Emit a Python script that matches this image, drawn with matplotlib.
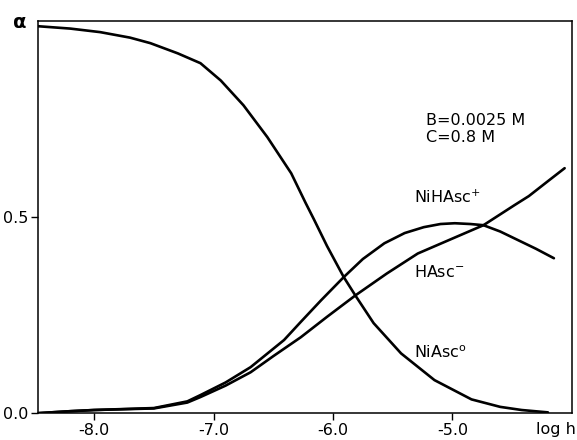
import matplotlib
matplotlib.use('Agg')
import matplotlib.pyplot as plt

plt.rcParams['font.family'] = 'DejaVu Sans'
plt.rcParams['mathtext.default'] = 'regular'

# NiAsc0 species (decreasing curve)
lh_niasc = [-8.47, -8.2, -7.95, -7.7, -7.53, -7.3, -7.11, -6.94, -6.75, -6.55, -6.35,
            -6.23, -6.16, -6.05, -5.91, -5.81, -5.66, -5.43, -5.15, -4.84, -4.6, -4.42, -4.2]
a_niasc = [0.984, 0.978, 0.969, 0.955, 0.941, 0.915, 0.89, 0.846, 0.783, 0.702, 0.61,
           0.535, 0.493, 0.425, 0.346, 0.298, 0.229, 0.152, 0.084, 0.035, 0.016, 0.008, 0.002]

# HAsc- species (curve with a maximum)
lh_hasc = [-8.47, -8.2, -8.0, -7.5, -7.22, -7.11, -6.9, -6.69, -6.41, -6.27, -6.10, -5.91,
           -5.75, -5.57, -5.4, -5.24, -5.1, -4.98, -4.85, -4.74, -4.6, -4.45, -4.3, -4.15]
a_hasc = [0.0, 0.005, 0.008, 0.013, 0.03, 0.046, 0.078, 0.117, 0.186, 0.232, 0.287, 0.346,
          0.392, 0.432, 0.458, 0.473, 0.481, 0.483, 0.481, 0.478, 0.462, 0.44, 0.418, 0.394]

# NiHAsc+ species (rising curve)
lh_nihasc = [-8.47, -8.2, -8.0, -7.5, -7.22, -7.11, -6.9, -6.69, -6.5, -6.27, -6.05, -5.81,
             -5.55, -5.29, -5.0, -4.74, -4.48, -4.36, -4.2, -4.06]
a_nihasc = [0.0, 0.005, 0.008, 0.012, 0.027, 0.041, 0.07, 0.104, 0.145, 0.193, 0.245, 0.30,
            0.355, 0.406, 0.444, 0.478, 0.529, 0.552, 0.59, 0.623]

xticks = [-8.0, -7.0, -6.0, -5.0]
xticklabels = ['-8.0', '-7.0', '-6.0', '-5.0']
yticks = [0.0, 0.5]
yticklabels = ['0.0', '0.5']

fig = plt.figure(figsize=(5.77, 4.40), dpi=100)
ax = fig.add_axes([0.066, 0.061, 0.925, 0.891])

for x, y in [(lh_niasc, a_niasc), (lh_hasc, a_hasc), (lh_nihasc, a_nihasc)]:
    ax.plot(x, y, color='black', lw=1.9, solid_capstyle='round', solid_joinstyle='round')

ax.set_xlim(-8.47, -4.0)
ax.set_ylim(0, 0.997)
ax.set_xticks(xticks)
ax.set_xticklabels(xticklabels)
ax.set_yticks(yticks)
ax.set_yticklabels(yticklabels)
ax.tick_params(direction='out', length=5, width=1.0, labelsize=11.5, pad=2)
for s in ax.spines.values():
    s.set_linewidth(1.1)

# annotations (baseline positions in data units)
ax.text(-5.22, 0.732, 'B=0.0025 M', fontsize=11.5, ha='left', va='baseline')
ax.text(-5.22, 0.689, 'C=0.8 M', fontsize=11.5, ha='left', va='baseline')
ax.text(-5.32, 0.534, r'NiHAsc$^{+}$', fontsize=11.5, ha='left', va='baseline')
ax.text(-5.32, 0.346, r'HAsc$^{-}$', fontsize=11.5, ha='left', va='baseline')
ax.text(-5.32, 0.140, r'NiAsc$^{o}$', fontsize=11.5, ha='left', va='baseline')

fig.text(0.035, 0.948, 'α', fontsize=14, fontweight='bold', ha='center', va='center')
fig.text(0.998, 0.025, 'log h', fontsize=11.5, ha='right', va='center')

fig.savefig('out.png', dpi=100)
